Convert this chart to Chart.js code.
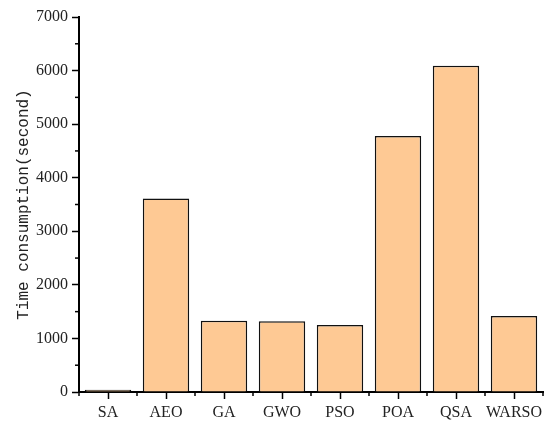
<!DOCTYPE html>
<html>
<head>
<meta charset="utf-8">
<script src="https://cdn.jsdelivr.net/npm/chart.js@4"></script>
<style>
  html, body { margin: 0; padding: 0; background: #fff; }
  #wrap { width: 550px; height: 432px; }
</style>
</head>
<body>
<div id="wrap"><canvas id="time_chart"></canvas></div>
<script>
// chart data
const algorithms = ['SA', 'AEO', 'GA', 'GWO', 'PSO', 'POA', 'QSA', 'WARSO'];
const time_values = [40, 3610, 1330, 1320, 1250, 4780, 6090, 1420];
const y_ticks = [0, 1000, 2000, 3000, 4000, 5000, 6000, 7000];

// short ticks between the labelled ones
const minorTicks = {
  id: 'minorTicks',
  afterDraw(chart) {
    const ctx = chart.ctx;
    const xs = chart.scales.x, ys = chart.scales.y;
    ctx.save();
    ctx.strokeStyle = '#000';
    ctx.lineWidth = 1.5;
    for (let i = 0; i < y_ticks.length - 1; i++) {
      const py = ys.getPixelForValue((y_ticks[i] + y_ticks[i + 1]) / 2);
      ctx.beginPath();
      ctx.moveTo(xs.left - 4, py);
      ctx.lineTo(xs.left, py);
      ctx.stroke();
    }
    const half = (xs.getPixelForValue(1) - xs.getPixelForValue(0)) / 2;
    for (let i = 0; i <= algorithms.length; i++) {
      const px = xs.getPixelForValue(0) - half + i * half * 2;
      ctx.beginPath();
      ctx.moveTo(px, ys.bottom);
      ctx.lineTo(px, ys.bottom + 4);
      ctx.stroke();
    }
    ctx.restore();
  }
};

const data = {
  labels: algorithms,
  datasets: [{
    data: time_values,
    backgroundColor: '#FEC994',
    borderColor: '#111',
    borderWidth: 1.5,
    barPercentage: 0.8,
    categoryPercentage: 1.0
  }]
};

const config = {
  type: 'bar',
  data: data,
  options: {
    responsive: false,
    animation: false,
    layout: { padding: { top: 17, right: 7, left: 0, bottom: 0 } },
    plugins: { legend: { display: false }, tooltip: { enabled: false } },
    scales: {
      x: {
        offset: true,
        grid: { display: true, offset: false, drawOnChartArea: false, tickLength: 7, tickColor: '#000', tickWidth: 1.5 },
        border: { display: true, color: '#000', width: 2 },
        ticks: {
          color: '#222',
          padding: 4,
          maxRotation: 0,
          minRotation: 0,
          autoSkip: false,
          font: { family: 'Liberation Serif', size: 16 }
        },
        afterFit(scale) { scale.height = 40; }
      },
      y: {
        min: 0,
        max: 7000,
        grid: { display: true, drawOnChartArea: false, tickLength: 7, tickColor: '#000', tickWidth: 1.5 },
        border: { display: true, color: '#000', width: 2 },
        ticks: {
          stepSize: 1000,
          color: '#222',
          padding: 4,
          font: { family: 'Liberation Serif', size: 16 },
          callback: (v) => String(v)
        },
        title: {
          display: true,
          text: 'Time consumption(second)',
          color: '#222',
          padding: { top: 14, bottom: 2 },
          font: { family: 'Liberation Mono', size: 16 }
        },
        afterFit(scale) { scale.width = 79; }
      }
    }
  },
  plugins: [minorTicks]
};

const canvas = document.getElementById('time_chart');
canvas.width = 550;
canvas.height = 432;
new Chart(canvas, config);
</script>
</body>
</html>
